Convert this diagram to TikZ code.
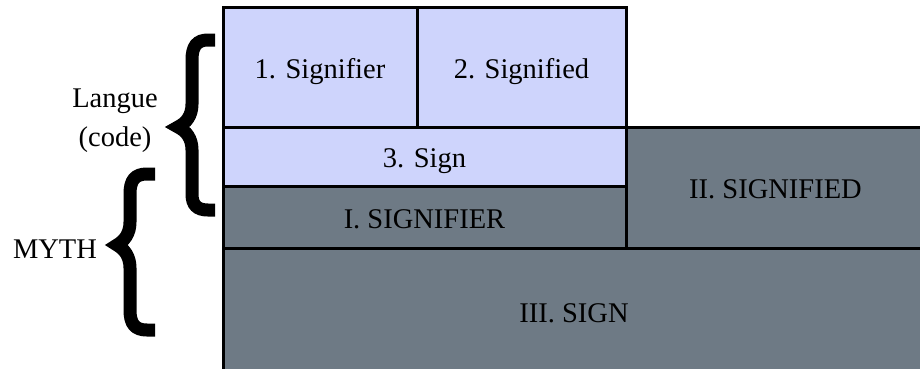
\documentclass[tikz,border=0pt]{standalone}
\usepackage{fontspec}
\setmainfont{Liberation Serif}
\definecolor{lav}{HTML}{CED4FC}
\definecolor{slate}{HTML}{6E7A85}
\begin{document}
\begin{tikzpicture}[x=1pt, y=-1pt,
    box/.style = {draw, line width=3pt, rectangle, inner sep=0pt, text height=22pt, text depth=0pt,
      font=\fontsize{28.5}{34}\selectfont},
    upper/.style = {box, fill=lav},
    lower/.style = {box, fill=slate},
    side/.style = {align=center, font=\fontsize{28.5}{39}\selectfont},
    curly/.style = {line width=13pt, line join=miter}]
  \useasboundingbox (0,0) rectangle (920,368);
  \clip (0,0) rectangle (920,368);

  % language level
  \node[upper, minimum width=194pt, minimum height=120pt] (sr1) at (320, 67) {1. Signifier};
  \node[upper, minimum width=209pt, minimum height=120pt] (sd2) at (521.5, 67) {2. Signified};
  \node[upper, minimum width=403pt, minimum height=59pt] (sign3) at (424.5, 156.5) {3. Sign};

  % myth level
  \node[lower, minimum width=403pt, minimum height=62pt] (srI) at (424.5, 217) {I. SIGNIFIER};
  \node[lower, minimum width=299pt, minimum height=121pt] (sdII) at (775.5, 187.5) {II. SIGNIFIED};
  \node[lower, minimum width=702pt, minimum height=127pt] (signIII) at (574, 311.5) {III. SIGN};

  \node[side] (langue) at (115, 121) {Langue\\(code)};
  \node[side] (myth) at (55, 249) {MYTH};

  \draw[curly] (215,40) -- (208,40) .. controls (197,40) and (192,46) .. (192,60) -- (192,104)
    .. controls (192,116) and (186,123) .. (178,127) .. controls (186,131) and (192,138) .. (192,150)
    -- (192,194) .. controls (192,205) and (197,210) .. (208,210) -- (215,210);
  \draw[curly] (155,174) -- (147,174) .. controls (135,174) and (130,180) .. (130,194) -- (130,222)
    .. controls (130,234) and (124,241) .. (117,245) .. controls (124,249) and (130,256) .. (130,268)
    -- (130,310) .. controls (130,324) and (135,330) .. (147,330) -- (155,330);
\end{tikzpicture}
\end{document}
